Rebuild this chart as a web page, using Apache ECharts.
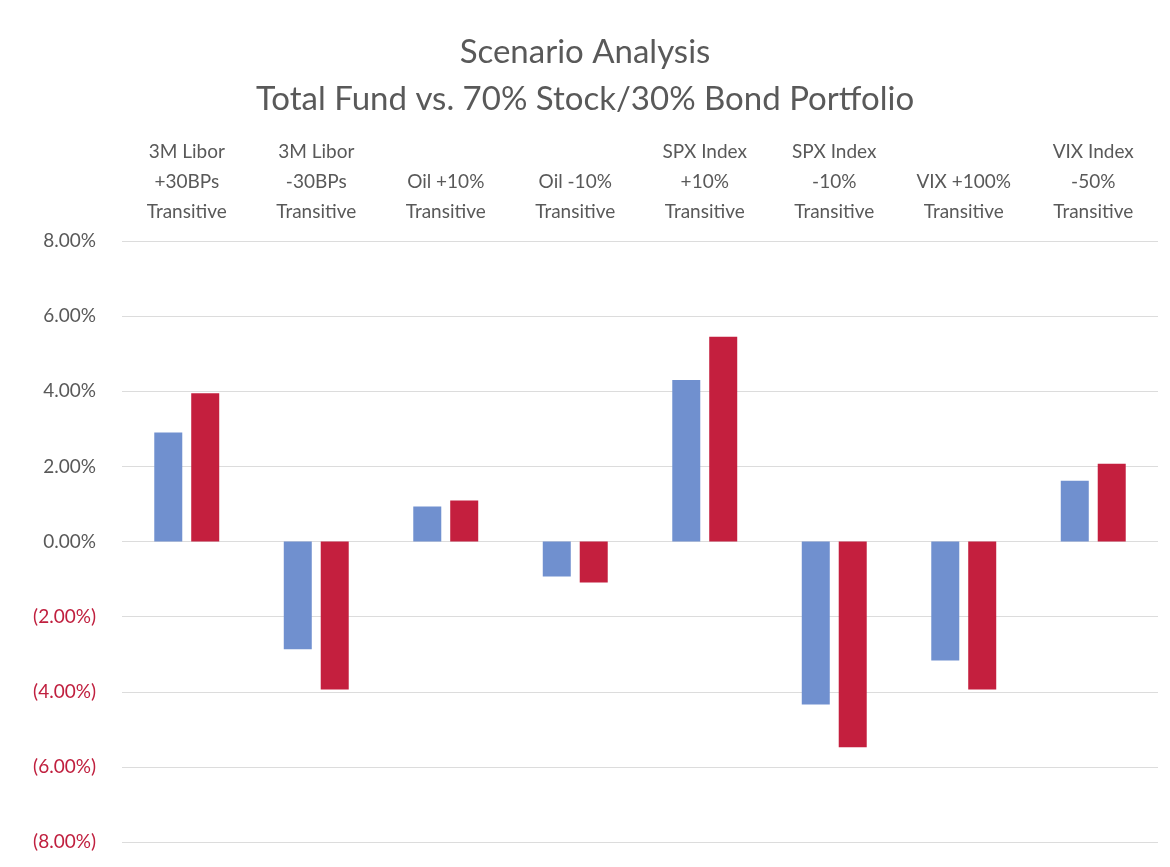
<!DOCTYPE html>
<html>
<head>
<meta charset="utf-8">
<script src="https://cdn.jsdelivr.net/npm/echarts@6/dist/echarts.min.js"></script>
<style>html,body{margin:0;padding:0;background:#fff;}#c{width:1170px;height:867px;}</style>
</head>
<body>
<div id="c"></div>
<script>
const categories = [
  "3M Libor\n+30BPs\nTransitive",
  "3M Libor\n-30BPs\nTransitive",
  "Oil +10%\nTransitive",
  "Oil -10%\nTransitive",
  "SPX Index\n+10%\nTransitive",
  "SPX Index\n-10%\nTransitive",
  "VIX +100%\nTransitive",
  "VIX Index\n-50%\nTransitive"
];
const totalFund = [2.90, -2.87, 0.93, -0.93, 4.30, -4.34, -3.17, 1.62];
const stockBond = [3.95, -3.94, 1.09, -1.09, 5.45, -5.48, -3.94, 2.07];
const yTicks = [-8, -6, -4, -2, 0, 2, 4, 6, 8];

const FONT = 'Lato';
const GRAY = '#595959';
const RED = '#c0203f';
const chart = echarts.init(document.getElementById('c'));
chart.setOption({
  backgroundColor: '#ffffff',
  title: {
    text: 'Scenario Analysis\nTotal Fund vs. 70% Stock/30% Bond Portfolio',
    left: 'center',
    top: 24,
    textStyle: {fontFamily: FONT, fontSize: 33, fontWeight: 'normal', color: GRAY, lineHeight: 47}
  },
  grid: {left: 122, right: 12, top: 241, bottom: 25, containLabel: false},
  xAxis: {
    type: 'category',
    position: 'top',
    data: categories,
    axisLine: {show: false},
    axisTick: {show: false},
    axisLabel: {fontFamily: FONT, fontSize: 19, color: GRAY, lineHeight: 30, margin: 14, interval: 0, align: 'center'}
  },
  yAxis: {
    type: 'value',
    min: yTicks[0],
    max: yTicks[yTicks.length - 1],
    interval: 2,
    axisLine: {show: false},
    axisTick: {show: false},
    splitLine: {lineStyle: {color: '#dcdcdc', width: 1}},
    axisLabel: {
      fontFamily: FONT, fontSize: 19, margin: 26,
      color: function (v) { return v < 0 ? RED : GRAY; },
      formatter: function (v) { return v < 0 ? '(' + Math.abs(v).toFixed(2) + '%)' : v.toFixed(2) + '%'; }
    }
  },
  series: [
    {name: 'Total Fund', type: 'bar', data: totalFund, barWidth: 28, barGap: '32%',
     itemStyle: {color: '#7090cf'}},
    {name: '70% Stock/30% Bond', type: 'bar', data: stockBond, barWidth: 28,
     itemStyle: {color: '#c41f3e'}}
  ]
});
</script>
</body>
</html>
